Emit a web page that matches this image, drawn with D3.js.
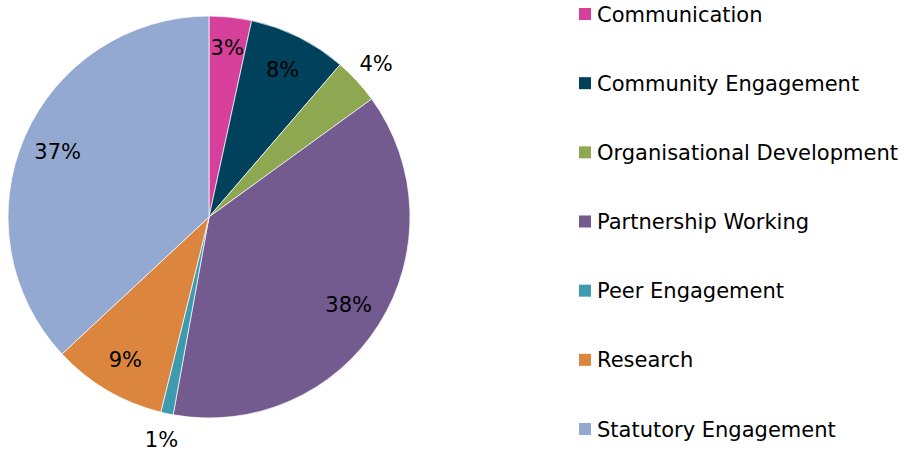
<!DOCTYPE html>
<html><head><meta charset="utf-8">
<script src="https://cdn.jsdelivr.net/npm/d3@7"></script>
<style>body{margin:0;background:#fff}svg{display:block}text{font-family:"DejaVu Sans",sans-serif}</style>
</head><body><svg width="907" height="459"></svg>
<script>
const categories = ["Communication","Community Engagement","Organisational Development","Partnership Working","Peer Engagement","Research","Statutory Engagement"];
const values = [3.4, 7.9, 3.7, 37.8, 1.0, 9.2, 36.9];
const colors = ["#D6409A","#00425C","#8DA851","#735A8F","#3D9AAF","#DC853F","#94A9D1"];

const svg = d3.select("svg");
const cx = 209, cy = 217, R = 201;
const g = svg.append("g").attr("transform", `translate(${cx},${cy})`);
const pie = d3.pie().sort(null).value(d => d)(values);
const arc = d3.arc().innerRadius(0).outerRadius(R);
g.selectAll("path").data(pie).join("path")
  .attr("d", arc).attr("fill", (d,i) => colors[i])
  .attr("stroke", "#fff").attr("stroke-width", 0.7);
const fmt = d => d3.format(".0f")(d) + "%";
g.selectAll("text.lbl").data(pie).join("text").attr("class","lbl")
  .attr("transform", (d,i) => {
    const a = (d.startAngle + d.endAngle) / 2;
    const out = d.value < 5 && i > 0;
    const r = out ? 227 : (i === 0 ? 171 : 165);
    return `translate(${Math.sin(a)*r},${-Math.cos(a)*r})`;
  })
  .attr("text-anchor","middle").attr("dy","0.36em")
  .attr("font-size", 21).attr("fill","#000")
  .text(d => fmt(d.value));

const leg = svg.append("g");
const y = d3.scalePoint().domain(categories).range([14, 429]);
const items = leg.selectAll("g").data(categories).join("g")
  .attr("transform", d => `translate(579,${y(d)})`);
items.append("rect").attr("x",0).attr("y",-6).attr("width",12).attr("height",12)
  .attr("fill", (d,i) => colors[i]);
items.append("text").attr("x",18).attr("dy","0.36em").attr("font-size",21).attr("fill","#000").text(d => d);
</script></body></html>
